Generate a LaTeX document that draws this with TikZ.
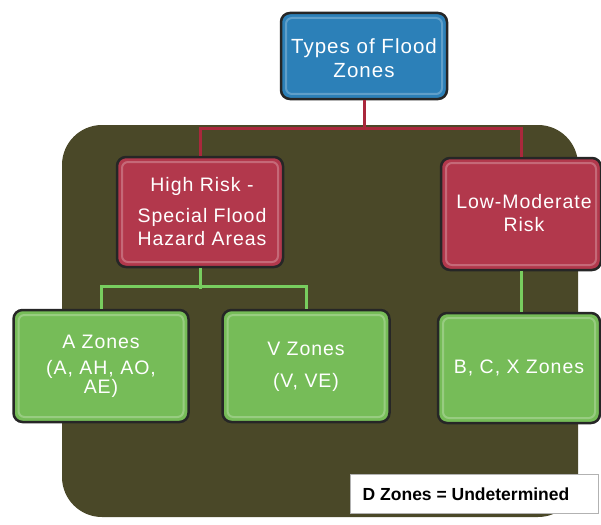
\documentclass[tikz,border=0pt]{standalone}
\usepackage{fontspec}
\setmainfont{Liberation Sans}[LetterSpace=5]
\newfontfamily\notefont{Liberation Sans}
\begin{document}
\begin{tikzpicture}[x=1pt,y=-1pt,
  every node/.style={font=\fontsize{19.5}{23}\selectfont, text=white, align=center},
  boxbase/.style={draw=black!85, line width=2.5pt, rounded corners=9pt, inner sep=0pt},
  boxb/.style={boxbase, fill=blueF},
  boxr/.style={boxbase, fill=redF},
  boxg/.style={boxbase, fill=greenF},
  gloss/.style={draw=white, draw opacity=0.25, line width=2pt, rounded corners=6pt, inner sep=0pt},
  redline/.style={draw=redL, line width=3pt},
  greenline/.style={draw=greenL, line width=3pt}]
\definecolor{blueF}{RGB}{44,128,184}
\definecolor{redF}{RGB}{178,56,76}
\definecolor{greenF}{RGB}{118,188,88}
\definecolor{redL}{RGB}{170,40,60}
\definecolor{greenL}{RGB}{120,205,95}
\definecolor{olive}{RGB}{74,72,40}
\useasboundingbox (0,0) rectangle (601,524);
\fill[white] (0,0) rectangle (601,524);
% background panel
\fill[olive, rounded corners=40pt] (62,125) rectangle (578,517);
% boxes
\node[boxb, minimum width=166pt, minimum height=86pt] (top) at (364,56) {};
\node[boxr, minimum width=166pt, minimum height=110pt] (hr) at (200,212) {};
\node[boxr, minimum width=160pt, minimum height=112pt] (lr) at (521,214) {};
\node[boxg, minimum width=175pt, minimum height=112pt] (az) at (101,366) {};
\node[boxg, minimum width=167pt, minimum height=112pt] (vz) at (306,366) {};
\node[boxg, minimum width=162pt, minimum height=110pt] (bz) at (519,368) {};
% gloss
\node[gloss, minimum width=156pt, minimum height=76pt] at (364,56) {};
\node[gloss, minimum width=156pt, minimum height=100pt] at (200,212) {};
\node[gloss, minimum width=150pt, minimum height=102pt] at (521,214) {};
\node[gloss, minimum width=165pt, minimum height=102pt] at (101,366) {};
\node[gloss, minimum width=157pt, minimum height=102pt] at (306,366) {};
\node[gloss, minimum width=152pt, minimum height=100pt] at (519,368) {};
% connectors
\draw[redline] (top.south) -- ++(0,27);
\draw[redline] (hr.north) -- ++(0,-27) -| (lr.north);
\draw[greenline] (hr.south) -- ++(0,21);
\draw[greenline] (az.north) -- ++(0,-22) -| (vz.north);
\draw[greenline] (lr.south) -- (lr.south |- bz.north);
% texts
\node[font=\fontsize{20.5}{24}\selectfont] (ttop) at (364,58) {Types of Flood\\Zones};
\node (thr) at (202,212) {High Risk -\\[8pt]Special Flood\\Hazard Areas};
\node (tlr) at (524,213) {Low-Moderate\\Risk};
\node[font=\fontsize{19.5}{19}\selectfont] (taz) at (101,366) {A Zones\\[7pt](A, AH, AO,\\AE)};
\node (tvz) at (306,367) {V Zones\\[9pt](V, VE)};
\node (tbz) at (519,368) {B, C, X Zones};
% D zones note
\node[fill=white, draw=black!30, line width=0.6pt, minimum width=248pt, minimum height=39pt, text=black, font=\notefont\bfseries\fontsize{17.5}{20}\selectfont] (dz) at (474,494) {D Zones = Undetermined\hspace*{16pt}};
\end{tikzpicture}
\end{document}
